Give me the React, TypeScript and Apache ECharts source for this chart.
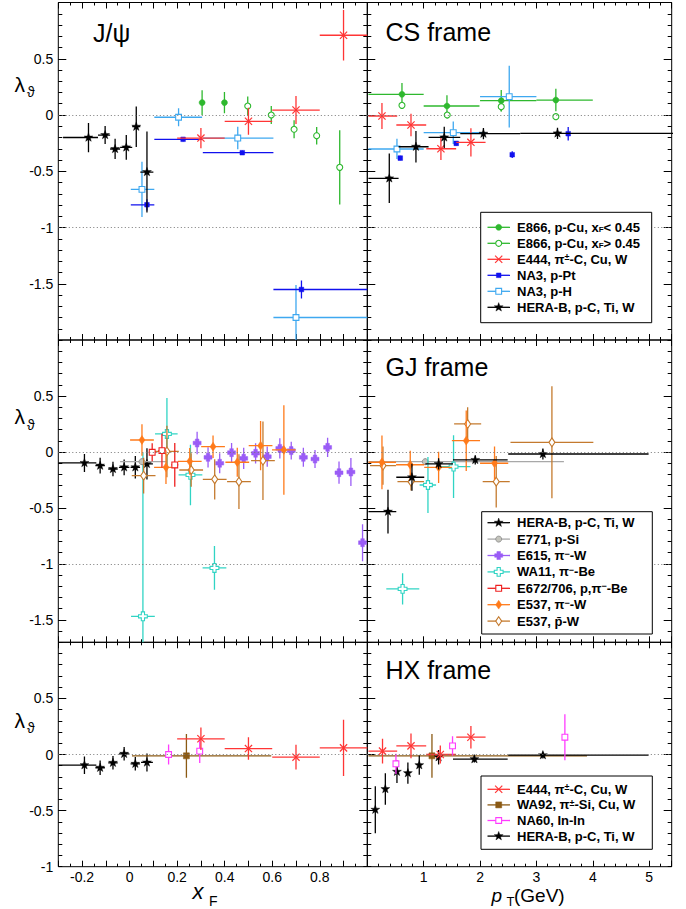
import React, { useEffect, useRef } from 'react';
import * as echarts from 'echarts';

const FONT = '"Liberation Sans", Arial, Helvetica, "DejaVu Sans", sans-serif';

// ---------- axes ----------
const XF_MIN = -0.3, XF_MAX = 1.0;
const PT_MIN = 0, PT_MAX = 5.4;
const Y_RANGES: [number, number][] = [[-2, 1], [-1.7, 1], [-1, 1]];
const XF_TICK_LABELS = [-0.2, 0, 0.2, 0.4, 0.6, 0.8];
const PT_TICK_LABELS = [1, 2, 3, 4, 5];
const Y_TICK_LABELS = [[-1.5, -1, -0.5, 0, 0.5], [-1.5, -1, -0.5, 0, 0.5], [-1, -0.5, 0, 0.5]];
const Y_MAJOR_TICKS = [[-1.5, -1, -0.5, 0, 0.5], [-1.5, -1, -0.5, 0, 0.5], [-0.5, 0, 0.5]];
const REF_LINES = [[0, -1], [0, -1], [0]];
const PANEL_TITLES = ['J/ψ', 'CS frame', '', 'GJ frame', '', 'HX frame'];

// ---------- data: [x, y, ex-, ex+, ey-, ey+] ----------
type Pt = [number, number, number, number, number, number];

// CS frame vs xF
const CS_XF_HERAB: Pt[] = [
  [-0.173, -0.2, 0.107, 0.04, 0.13, 0.13],
  [-0.103, -0.178, 0.03, 0.021, 0.08, 0.08],
  [-0.061, -0.302, 0.021, 0.021, 0.09, 0.09],
  [-0.014, -0.288, 0.026, 0.025, 0.11, 0.11],
  [0.028, -0.104, 0.017, 0.017, 0.18, 0.18],
  [0.073, -0.507, 0.028, 0.027, 0.36, 0.36],
];
const CS_XF_E866_LO: Pt[] = [
  [0.305, 0.11, 0, 0, 0.11, 0.11],
  [0.399, 0.11, 0, 0, 0.095, 0.095],
];
const CS_XF_E866_HI: Pt[] = [
  [0.497, 0.08, 0, 0, 0.085, 0.085],
  [0.596, 0.0, 0, 0, 0.08, 0.08],
  [0.692, -0.127, 0, 0, 0.08, 0.08],
  [0.787, -0.184, 0, 0, 0.078, 0.078],
  [0.884, -0.465, 0, 0, 0.33, 0.33],
];
const CS_XF_E444: Pt[] = [
  [0.3, -0.205, 0.1, 0.1, 0.09, 0.09],
  [0.5, -0.056, 0.1, 0.1, 0.12, 0.12],
  [0.7, 0.044, 0.1, 0.1, 0.125, 0.125],
  [0.9, 0.709, 0.1, 0.1, 0.225, 0.225],
];
const CS_XF_NA3_PT: Pt[] = [
  [0.073, -0.798, 0.068, 0.031, 0.05, 0.05],
  [0.225, -0.216, 0.121, 0.08, 0.02, 0.02],
  [0.474, -0.335, 0.166, 0.131, 0.02, 0.02],
  [0.723, -1.551, 0.118, 0.277, 0.08, 0.08],
];
const CS_XF_NA3_H: Pt[] = [
  [0.052, -0.661, 0.047, 0.052, 0.245, 0.245],
  [0.206, -0.02, 0.102, 0.099, 0.08, 0.08],
  [0.455, -0.205, 0.147, 0.15, 0.1, 0.1],
  [0.7, -1.8, 0.095, 0.3, 0.29, 0.29],
];

// CS frame vs pT
const CS_PT_E866_LO: Pt[] = [
  [0.615, 0.184, 0.595, 0.385, 0.1, 0.1],
  [1.413, 0.08, 0.413, 0.577, 0.095, 0.095],
  [2.376, 0.127, 0.376, 0.624, 0.095, 0.095],
  [3.345, 0.133, 0.345, 0.655, 0.1, 0.1],
];
const CS_PT_E866_HI: Pt[] = [
  [0.615, 0.086, 0, 0, 0.03, 0.03],
  [1.418, 0.0, 0, 0, 0.03, 0.03],
  [2.376, 0.074, 0, 0, 0.04, 0.04],
  [3.345, -0.015, 0, 0, 0.03, 0.03],
];
const CS_PT_E444: Pt[] = [
  [0.26, -0.009, 0.24, 0.27, 0.115, 0.115],
  [0.775, -0.089, 0.26, 0.27, 0.1, 0.1],
  [1.306, -0.3, 0.26, 0.27, 0.1, 0.1],
  [1.838, -0.243, 0.26, 0.26, 0.125, 0.125],
];
const CS_PT_NA3_PT: Pt[] = [
  [0.585, -0.383, 0, 0, 0.02, 0.02],
  [1.578, -0.252, 0, 0, 0.02, 0.02],
  [2.571, -0.353, 0, 0, 0.03, 0.03],
  [3.564, -0.166, 0, 0, 0.06, 0.06],
];
const CS_PT_NA3_H: Pt[] = [
  [0.526, -0.302, 0.506, 0.474, 0.09, 0.09],
  [1.525, -0.157, 0.525, 0.575, 0.1, 0.1],
  [2.518, 0.163, 0.518, 0.482, 0.275, 0.275],
];
const CS_PT_HERAB: Pt[] = [
  [0.39, -0.563, 0.37, 0.165, 0.22, 0.22],
  [0.863, -0.282, 0.308, 0.224, 0.14, 0.14],
  [1.365, -0.199, 0.278, 0.284, 0.095, 0.095],
  [2.06, -0.166, 0.411, 0.653, 0.05, 0.05],
  [3.374, -0.163, 0.661, 2.1, 0.05, 0.05],
];

// GJ frame vs xF
const GJ_XF_HERAB: Pt[] = [
  [-0.19, -0.098, 0.11, 0.05, 0.08, 0.08],
  [-0.124, -0.122, 0.02, 0.02, 0.07, 0.07],
  [-0.07, -0.152, 0.02, 0.02, 0.065, 0.065],
  [-0.023, -0.137, 0.022, 0.022, 0.07, 0.07],
  [0.024, -0.137, 0.02, 0.02, 0.1, 0.1],
  [0.073, -0.107, 0.025, 0.025, 0.14, 0.14],
];
const GJ_XF_E771: Pt[] = [[0.052, -0.087, 0.092, 0.105, 0.03, 0.03]];
const GJ_XF_E615: Pt[] = [
  [0.284, 0.08, 0, 0, 0.1, 0.1],
  [0.33, -0.048, 0, 0, 0.09, 0.09],
  [0.379, -0.101, 0, 0, 0.09, 0.09],
  [0.429, -0.006, 0, 0, 0.085, 0.085],
  [0.48, -0.057, 0, 0, 0.095, 0.095],
  [0.53, -0.012, 0, 0, 0.09, 0.09],
  [0.579, -0.042, 0, 0, 0.09, 0.09],
  [0.632, 0.032, 0, 0, 0.09, 0.09],
  [0.68, 0.012, 0, 0, 0.08, 0.08],
  [0.731, -0.048, 0, 0, 0.085, 0.085],
  [0.78, -0.063, 0, 0, 0.08, 0.08],
  [0.833, 0.041, 0, 0, 0.085, 0.085],
  [0.881, -0.185, 0, 0, 0.1, 0.1],
  [0.931, -0.179, 0, 0, 0.125, 0.125],
  [0.98, -0.81, 0, 0, 0.165, 0.165],
];
const GJ_XF_WA11: Pt[] = [
  [0.056, -1.468, 0.05, 0.05, 1.46, 1.46],
  [0.157, 0.161, 0.05, 0.045, 0.32, 0.32],
  [0.256, -0.205, 0.05, 0.05, 0.27, 0.27],
  [0.357, -1.036, 0.05, 0.05, 0.195, 0.195],
];
const GJ_XF_E672: Pt[] = [
  [0.095, -0.003, 0.015, 0.015, 0.08, 0.08],
  [0.136, 0.012, 0.015, 0.015, 0.15, 0.15],
  [0.19, -0.116, 0.015, 0.015, 0.195, 0.195],
];
const GJ_XF_E537_PI: Pt[] = [
  [0.052, 0.107, 0.05, 0.05, 0.14, 0.14],
  [0.153, -0.137, 0.05, 0.05, 0.15, 0.15],
  [0.253, -0.084, 0.05, 0.05, 0.12, 0.12],
  [0.351, 0.047, 0.05, 0.05, 0.1, 0.1],
  [0.453, -0.092, 0.05, 0.05, 0.13, 0.13],
  [0.551, 0.056, 0.05, 0.05, 0.22, 0.22],
  [0.649, 0.018, 0.05, 0.05, 0.4, 0.4],
];
const GJ_XF_E537_PBAR: Pt[] = [
  [0.059, -0.212, 0.05, 0.05, 0.16, 0.16],
  [0.157, 0.005, 0.05, 0.05, 0.23, 0.23],
  [0.259, -0.161, 0.05, 0.05, 0.15, 0.15],
  [0.358, -0.244, 0.05, 0.05, 0.18, 0.18],
  [0.46, -0.265, 0.05, 0.05, 0.245, 0.245],
  [0.561, -0.078, 0.05, 0.05, 0.35, 0.35],
];

// GJ frame vs pT
const GJ_PT_HERAB: Pt[] = [
  [0.367, -0.533, 0.347, 0.147, 0.195, 0.195],
  [0.792, -0.226, 0.278, 0.218, 0.12, 0.12],
  [1.265, -0.107, 0.235, 0.255, 0.05, 0.05],
  [1.915, -0.071, 0.395, 0.575, 0.04, 0.04],
  [3.115, -0.018, 0.615, 1.875, 0.05, 0.05],
];
const GJ_PT_E771: Pt[] = [[1.028, -0.087, 1.008, 2.46, 0.03, 0.03]];
const GJ_PT_WA11: Pt[] = [
  [0.626, -1.223, 0.289, 0.296, 0.14, 0.14],
  [1.076, -0.295, 0.148, 0.144, 0.25, 0.25],
  [1.53, -0.131, 0.31, 0.3, 0.28, 0.28],
];
const GJ_PT_E537_PI: Pt[] = [
  [0.26, -0.092, 0.24, 0.25, 0.24, 0.24],
  [0.762, -0.114, 0.252, 0.248, 0.125, 0.125],
  [1.265, -0.137, 0.255, 0.235, 0.14, 0.14],
  [1.755, 0.101, 0.255, 0.245, 0.27, 0.27],
  [2.257, -0.101, 0.257, 0.243, 0.15, 0.15],
];
const GJ_PT_E537_PBAR: Pt[] = [
  [0.278, -0.122, 0.23, 0.23, 0.17, 0.17],
  [0.775, -0.265, 0.24, 0.23, 0.08, 0.08],
  [1.78, 0.25, 0.24, 0.24, 0.15, 0.15],
  [2.287, -0.265, 0.24, 0.24, 0.23, 0.23],
  [3.275, 0.086, 0.735, 0.735, 0.5, 0.5],
];

// HX frame vs xF
const HX_XF_HERAB: Pt[] = [
  [-0.19, -0.095, 0.11, 0.05, 0.078, 0.078],
  [-0.124, -0.118, 0.02, 0.02, 0.065, 0.065],
  [-0.07, -0.074, 0.02, 0.02, 0.06, 0.06],
  [-0.023, 0.006, 0.022, 0.022, 0.06, 0.06],
  [0.024, -0.083, 0.02, 0.02, 0.06, 0.06],
  [0.073, -0.071, 0.025, 0.025, 0.08, 0.08],
];
const HX_XF_NA60: Pt[] = [
  [0.164, 0.0, 0, 0, 0.09, 0.09],
  [0.295, 0.03, 0, 0, 0.105, 0.105],
];
const HX_XF_WA92: Pt[] = [[0.239, -0.012, 0.229, 0.357, 0.195, 0.195]];
const HX_XF_E444: Pt[] = [
  [0.3, 0.14, 0.1, 0.1, 0.1, 0.1],
  [0.5, 0.053, 0.1, 0.1, 0.1, 0.1],
  [0.7, -0.024, 0.1, 0.1, 0.11, 0.11],
  [0.9, 0.059, 0.1, 0.1, 0.25, 0.25],
];

// HX frame vs pT
const HX_PT_E444: Pt[] = [
  [0.27, 0.03, 0.25, 0.26, 0.11, 0.11],
  [0.775, 0.077, 0.26, 0.27, 0.11, 0.11],
  [1.295, 0.0, 0.25, 0.28, 0.08, 0.08],
  [1.838, 0.154, 0.26, 0.26, 0.1, 0.1],
];
const HX_PT_WA92: Pt[] = [[1.147, -0.012, 1.127, 2.75, 0.195, 0.195]];
const HX_PT_NA60: Pt[] = [
  [0.508, -0.083, 0, 0, 0.09, 0.09],
  [1.512, 0.077, 0, 0, 0.085, 0.085],
  [3.505, 0.154, 0, 0, 0.205, 0.205],
];
const HX_PT_HERAB: Pt[] = [
  [0.142, -0.492, 0, 0, 0.21, 0.21],
  [0.32, -0.308, 0, 0, 0.14, 0.14],
  [0.526, -0.154, 0, 0, 0.1, 0.1],
  [0.72, -0.166, 0, 0, 0.095, 0.095],
  [0.922, -0.095, 0, 0, 0.085, 0.085],
  [1.265, -0.024, 0, 0, 0.065, 0.065],
  [1.9, -0.041, 0.38, 0.59, 0.03, 0.03],
  [3.115, -0.006, 0.615, 1.875, 0.03, 0.03],
];

// ---------- styles ----------
type Kind = 'circle' | 'circleOpen' | 'x' | 'square' | 'squareBig' | 'squareOpen' | 'star' |
  'plus' | 'plusOpen' | 'diamond' | 'diamondOpen';
interface Exp { name: string; kind: Kind; color: string; fill?: string; }
const E866_LO: Exp = { name: 'E866, p-Cu, x{sub|F}< 0.45', kind: 'circle', color: '#2eb82e' };
const E866_HI: Exp = { name: 'E866, p-Cu, x{sub|F}> 0.45', kind: 'circleOpen', color: '#2eb82e' };
const E444: Exp = { name: 'E444, π{sup|±}-C, Cu, W', kind: 'x', color: '#ff3535' };
const NA3_PT: Exp = { name: 'NA3, p-Pt', kind: 'square', color: '#1111ee' };
const NA3_H: Exp = { name: 'NA3, p-H', kind: 'squareOpen', color: '#3ea8f0' };
const HERAB: Exp = { name: 'HERA-B, p-C, Ti, W', kind: 'star', color: '#000000' };
const E771: Exp = { name: 'E771, p-Si', kind: 'circle', color: '#a8a8a8', fill: '#c4c4bc' };
const E615: Exp = { name: 'E615, π{sup|−}-W', kind: 'plus', color: '#9a5cf6' };
const WA11: Exp = { name: 'WA11, π{sup|−}-Be', kind: 'plusOpen', color: '#30d4c4' };
const E672: Exp = { name: 'E672/706, p,π{sup|−}-Be', kind: 'squareOpen', color: '#ee2020' };
const E537_PI: Exp = { name: 'E537, π{sup|−}-W', kind: 'diamond', color: '#ff7a1a' };
const E537_PBAR: Exp = { name: 'E537, p\u0304-W', kind: 'diamondOpen', color: '#c47a2e' };
const WA92: Exp = { name: 'WA92, π{sup|±}-Si, Cu, W', kind: 'squareBig', color: '#8b5a14' };
const NA60: Exp = { name: 'NA60, In-In', kind: 'squareOpen', color: '#ff3cff' };

const SERIES_SPECS: { panel: number; exp: Exp; data: Pt[] }[] = [
  { panel: 0, exp: NA3_H, data: CS_XF_NA3_H },
  { panel: 0, exp: NA3_PT, data: CS_XF_NA3_PT },
  { panel: 0, exp: E866_LO, data: CS_XF_E866_LO },
  { panel: 0, exp: E866_HI, data: CS_XF_E866_HI },
  { panel: 0, exp: E444, data: CS_XF_E444 },
  { panel: 0, exp: HERAB, data: CS_XF_HERAB },
  { panel: 1, exp: E866_LO, data: CS_PT_E866_LO },
  { panel: 1, exp: E866_HI, data: CS_PT_E866_HI },
  { panel: 1, exp: NA3_H, data: CS_PT_NA3_H },
  { panel: 1, exp: NA3_PT, data: CS_PT_NA3_PT },
  { panel: 1, exp: E444, data: CS_PT_E444 },
  { panel: 1, exp: HERAB, data: CS_PT_HERAB },
  { panel: 2, exp: WA11, data: GJ_XF_WA11 },
  { panel: 2, exp: HERAB, data: GJ_XF_HERAB },
  { panel: 2, exp: E771, data: GJ_XF_E771 },
  { panel: 2, exp: E615, data: GJ_XF_E615 },
  { panel: 2, exp: E537_PBAR, data: GJ_XF_E537_PBAR },
  { panel: 2, exp: E537_PI, data: GJ_XF_E537_PI },
  { panel: 2, exp: E672, data: GJ_XF_E672 },
  { panel: 3, exp: E771, data: GJ_PT_E771 },
  { panel: 3, exp: WA11, data: GJ_PT_WA11 },
  { panel: 3, exp: E537_PBAR, data: GJ_PT_E537_PBAR },
  { panel: 3, exp: E537_PI, data: GJ_PT_E537_PI },
  { panel: 3, exp: HERAB, data: GJ_PT_HERAB },
  { panel: 4, exp: HERAB, data: HX_XF_HERAB },
  { panel: 4, exp: WA92, data: HX_XF_WA92 },
  { panel: 4, exp: NA60, data: HX_XF_NA60 },
  { panel: 4, exp: E444, data: HX_XF_E444 },
  { panel: 5, exp: WA92, data: HX_PT_WA92 },
  { panel: 5, exp: HERAB, data: HX_PT_HERAB },
  { panel: 5, exp: E444, data: HX_PT_E444 },
  { panel: 5, exp: NA60, data: HX_PT_NA60 },
];

const LEGENDS = [
  { box: [480.7, 212.3, 171, 110.4], y0: 227.3, dy: 16, items: [E866_LO, E866_HI, E444, NA3_PT, NA3_H, HERAB] },
  { box: [481.7, 511.7, 170.6, 122.3], y0: 522.7, dy: 16.4, items: [HERAB, E771, E615, WA11, E672, E537_PI, E537_PBAR] },
  { box: [481, 776, 171.3, 73.3], y0: 789.3, dy: 15.6, items: [E444, WA92, NA60, HERAB] },
];

// ---------- layout ----------
const COL_LEFT = [58.3, 367.3];
const COL_WIDTH = [309, 304.4];
const ROW_TOP = [2.5, 340, 642.3];
const ROW_H = [337.5, 302.3, 224.4];

function starPts(cx: number, cy: number, R: number, r: number) {
  const pts: number[][] = [];
  for (let i = 0; i < 10; i++) {
    const a = -Math.PI / 2 + (i * Math.PI) / 5;
    const rad = i % 2 === 0 ? R : r;
    pts.push([cx + rad * Math.cos(a), cy + rad * Math.sin(a)]);
  }
  return pts;
}
function plusPts(cx: number, cy: number, a: number, w: number) {
  return [
    [cx - w, cy - a], [cx + w, cy - a], [cx + w, cy - w], [cx + a, cy - w], [cx + a, cy + w], [cx + w, cy + w],
    [cx + w, cy + a], [cx - w, cy + a], [cx - w, cy + w], [cx - a, cy + w], [cx - a, cy - w], [cx - w, cy - w],
  ];
}

function markerEls(kind: Kind, cx: number, cy: number, color: string, fill?: string): any[] {
  switch (kind) {
    case 'circle':
      return [{ type: 'circle', shape: { cx, cy, r: 3 }, style: { fill: fill || color, stroke: fill ? '#888' : color, lineWidth: fill ? 0.8 : 0.5 } }];
    case 'circleOpen':
      return [{ type: 'circle', shape: { cx, cy, r: 3 }, style: { fill: '#fff', stroke: color, lineWidth: 1.1 } }];
    case 'x': {
      const d = 3.6;
      return [
        { type: 'line', shape: { x1: cx - d, y1: cy - d, x2: cx + d, y2: cy + d }, style: { stroke: color, lineWidth: 1.2 } },
        { type: 'line', shape: { x1: cx - d, y1: cy + d, x2: cx + d, y2: cy - d }, style: { stroke: color, lineWidth: 1.2 } },
      ];
    }
    case 'square':
      return [{ type: 'rect', shape: { x: cx - 2.3, y: cy - 2.3, width: 4.6, height: 4.6 }, style: { fill: color, stroke: color, lineWidth: 0.5 } }];
    case 'squareBig':
      return [{ type: 'rect', shape: { x: cx - 3, y: cy - 3, width: 6, height: 6 }, style: { fill: color, stroke: color, lineWidth: 0.5 } }];
    case 'squareOpen':
      return [{ type: 'rect', shape: { x: cx - 2.9, y: cy - 2.9, width: 5.8, height: 5.8 }, style: { fill: '#fff', stroke: color, lineWidth: 1.1 } }];
    case 'star':
      return [{ type: 'polygon', shape: { points: starPts(cx, cy, 4.7, 1.9) }, style: { fill: color, stroke: color, lineWidth: 0.4 } }];
    case 'plus':
      return [{ type: 'polygon', shape: { points: plusPts(cx, cy, 4, 1.8) }, style: { fill: color, stroke: color, lineWidth: 0.5 } }];
    case 'plusOpen':
      return [{ type: 'polygon', shape: { points: plusPts(cx, cy, 4.4, 1.6) }, style: { fill: '#fff', stroke: color, lineWidth: 1.1 } }];
    case 'diamond':
      return [{ type: 'polygon', shape: { points: [[cx, cy - 4.4], [cx + 3, cy], [cx, cy + 4.4], [cx - 3, cy]] }, style: { fill: color, stroke: color, lineWidth: 0.5 } }];
    case 'diamondOpen':
      return [{ type: 'polygon', shape: { points: [[cx, cy - 4.4], [cx + 3, cy], [cx, cy + 4.4], [cx - 3, cy]] }, style: { fill: '#fff', stroke: color, lineWidth: 1.1 } }];
  }
  return [];
}

function makeRender(exp: Exp) {
  return (_params: any, api: any) => {
    const x = api.value(0), y = api.value(1);
    const exm = api.value(2), exp_ = api.value(3), eym = api.value(4), eyp = api.value(5);
    const c = api.coord([x, y]);
    const children: any[] = [];
    if (exm > 0 || exp_ > 0) {
      const l = api.coord([x - exm, y]);
      const r = api.coord([x + exp_, y]);
      children.push({ type: 'line', shape: { x1: l[0], y1: c[1], x2: r[0], y2: c[1] }, style: { stroke: exp.color, lineWidth: 1.3 } });
    }
    if (eym > 0 || eyp > 0) {
      const t = api.coord([x, y + eyp]);
      const b = api.coord([x, y - eym]);
      children.push({ type: 'line', shape: { x1: c[0], y1: t[1], x2: c[0], y2: b[1] }, style: { stroke: exp.color, lineWidth: 1.3 } });
    }
    markerEls(exp.kind, c[0], c[1], exp.color, exp.fill).forEach((m) => children.push(m));
    return { type: 'group', children };
  };
}

const near = (a: number, b: number) => Math.abs(a - b) < 1e-6;
const fmtXF = (v: number) => (XF_TICK_LABELS.some((t) => near(t, v)) ? String(Math.round(v * 10) / 10) : '');
const fmtPT = (v: number) => (PT_TICK_LABELS.some((t) => near(t, v)) ? String(Math.round(v)) : '');
const makeFmtY = (row: number) => (v: number) =>
  Y_TICK_LABELS[row].some((t) => near(t, v)) ? String(Math.round(v * 10) / 10) : '';

const RICH = {
  sub: { fontSize: 8, lineHeight: 8, verticalAlign: 'bottom', fontWeight: 'bold', fontFamily: FONT, fill: '#000', color: '#000' },
  sup: { fontSize: 9, lineHeight: 9, verticalAlign: 'top', fontWeight: 'bold', fontFamily: FONT, fill: '#000', color: '#000' },
};

function txt(x: number, y: number, text: string, fontSize: number, extra: any = {}) {
  return {
    type: 'text', x, y, z: 100, silent: true,
    style: {
      text, fontSize, fontFamily: FONT, fill: '#000',
      textAlign: 'left', textVerticalAlign: 'middle', align: 'left', verticalAlign: 'middle', ...extra,
    },
  };
}

function buildOption() {
  const grid: any[] = [], xAxis: any[] = [], yAxis: any[] = [], series: any[] = [];
  for (let g = 0; g < 6; g++) {
    const row = Math.floor(g / 2), col = g % 2;
    const isXF = col === 0;
    grid.push({
      left: COL_LEFT[col], top: ROW_TOP[row], width: COL_WIDTH[col], height: ROW_H[row],
      show: true, borderColor: '#000', borderWidth: 1, backgroundColor: 'rgba(0,0,0,0)',
      containLabel: false, outerBoundsMode: 'none',
    });
    const xBase = {
      type: 'value', gridIndex: g, min: isXF ? XF_MIN : PT_MIN, max: isXF ? XF_MAX : PT_MAX,
      interval: isXF ? 0.1 : 1, splitLine: { show: false }, axisLine: { show: false, onZero: false },
      axisTick: { show: true, inside: true, length: 6, lineStyle: { color: '#000', width: 1 } },
      minorTick: { show: true, splitNumber: isXF ? 2 : 5, length: 3, lineStyle: { color: '#000', width: 1 } },
      minorSplitLine: { show: false },
    };
    xAxis.push({
      ...xBase, position: 'bottom',
      axisLabel: { show: row === 2, formatter: isXF ? fmtXF : fmtPT, fontSize: 14, color: '#000', fontFamily: FONT, margin: 3 },
    });
    xAxis.push({ ...xBase, position: 'top', axisLabel: { show: false } });
    const [ymin, ymax] = Y_RANGES[row];
    const yMinor = {
      type: 'value', gridIndex: g, min: ymin, max: ymax, interval: 0.1,
      splitLine: { show: false }, axisLine: { show: false, onZero: false },
      axisTick: { show: true, inside: true, length: 4, lineStyle: { color: '#000', width: 1 } },
    };
    const yMajor = {
      type: 'value', gridIndex: g, min: ymin, max: ymax, splitNumber: 5,
      splitLine: { show: false }, axisLine: { show: false, onZero: false },
      axisTick: { show: true, inside: true, length: 8, customValues: Y_MAJOR_TICKS[row], lineStyle: { color: '#000', width: 1 } },
      axisLabel: { show: false },
    };
    yAxis.push({
      ...yMinor, position: 'left',
      axisLabel: { show: col === 0, formatter: makeFmtY(row), fontSize: 14, color: '#000', fontFamily: FONT, margin: 5 },
    });
    yAxis.push({ ...yMajor, position: 'left' });
    yAxis.push({ ...yMinor, position: 'right', axisLabel: { show: false } });
    yAxis.push({ ...yMajor, position: 'right' });

    series.push({
      type: 'line', xAxisIndex: 2 * g, yAxisIndex: 4 * g, data: [], silent: true, showSymbol: false, z: 1,
      markLine: {
        silent: true, symbol: ['none', 'none'], label: { show: false }, animation: false,
        lineStyle: { color: '#777', type: [1, 2.5], width: 1 },
        data: REF_LINES[row].map((v) => ({ yAxis: v })),
      },
    });
  }

  SERIES_SPECS.forEach((s) => {
    series.push({
      type: 'custom', name: s.exp.name, xAxisIndex: 2 * s.panel, yAxisIndex: 4 * s.panel,
      clip: true, silent: true, z: 3, data: s.data, encode: { x: 0, y: 1 },
      renderItem: makeRender(s.exp),
    });
  });

  const elements: any[] = [];
  // panel titles
  const titlePos = [[93, 33], [385.5, 31.8], null, [385.5, 366.8], null, [385.5, 669.6]];
  PANEL_TITLES.forEach((t, i) => {
    const p = titlePos[i];
    if (t && p) elements.push(txt(p[0], p[1], t, 25));
  });
  // y axis titles
  const lamY = [84, 416.5, 720];
  lamY.forEach((y) => {
    elements.push(txt(14.5, y, 'λ', 21));
    elements.push(txt(27, y + 8, 'ϑ', 14));
  });
  // x axis titles
  elements.push(txt(192.5, 891.5, 'x', 22, { fontStyle: 'italic' }));
  elements.push(txt(209, 900.5, 'F', 14));
  elements.push(txt(491.5, 895, 'p', 19, { fontStyle: 'italic' }));
  elements.push(txt(506.5, 901, 'T', 13));
  elements.push(txt(514, 895, '(GeV)', 19));

  // legends
  LEGENDS.forEach((L) => {
    const [bx, by, bw, bh] = L.box;
    elements.push({ type: 'rect', z: 100, silent: true, shape: { x: bx, y: by, width: bw, height: bh }, style: { fill: '#fff', stroke: '#000', lineWidth: 1 } });
    L.items.forEach((it, i) => {
      const cy = L.y0 + i * L.dy;
      elements.push({ type: 'line', z: 101, silent: true, shape: { x1: 487.5, y1: cy, x2: 510, y2: cy }, style: { stroke: it.color, lineWidth: 1.3 } });
      markerEls(it.kind, 498.7, cy, it.color, it.fill).forEach((m) => elements.push({ ...m, z: 102, silent: true }));
      elements.push(txt(517, cy, it.name, 13, { fontWeight: 'bold', rich: RICH }));
    });
  });

  return {
    animation: false,
    backgroundColor: '#fff',
    grid, xAxis, yAxis, series,
    graphic: { elements },
  };
}

export default function App() {
  const ref = useRef<HTMLDivElement>(null);
  useEffect(() => {
    if (!ref.current) return;
    const chart = echarts.init(ref.current, null, { renderer: 'svg', width: 686, height: 909 });
    chart.setOption(buildOption() as any);
    return () => chart.dispose();
  }, []);
  return <div ref={ref} style={{ position: 'absolute', left: 0, top: 0, width: 686, height: 909, background: '#fff' }} />;
}
